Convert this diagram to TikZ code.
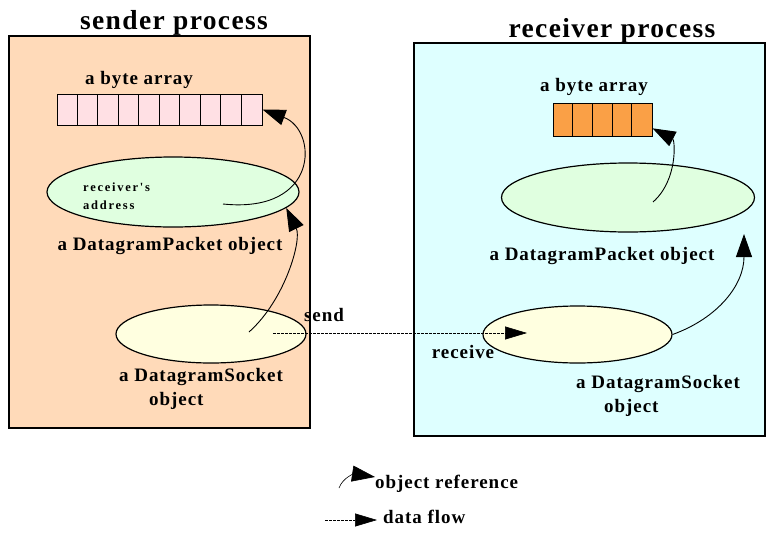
\documentclass[tikz,border=0pt]{standalone}
\usepackage{fontspec}
\setmainfont{Liberation Serif}
\newfontfamily\spacedfont[LetterSpace=5]{Liberation Serif}
\newfontfamily\widefont[LetterSpace=14]{Liberation Serif}
\usetikzlibrary{positioning,arrows.meta,shapes.geometric}
\definecolor{senderbg}{RGB}{255,218,185}
\definecolor{receiverbg}{RGB}{222,255,255}
\definecolor{packetbg}{RGB}{224,255,224}
\definecolor{socketbg}{RGB}{255,255,224}
\definecolor{pinkcell}{RGB}{255,224,228}
\definecolor{orangecell}{RGB}{250,160,70}

\begin{document}
\begin{tikzpicture}[x=1pt, y=-1pt,
  proc/.style={draw, line width=1.6pt, inner sep=0pt},
  title/.style={font=\spacedfont\fontsize{27.5}{30}\selectfont\bfseries, inner sep=0pt},
  lbl/.style={font=\spacedfont\fontsize{19}{24}\selectfont\bfseries, inner sep=0pt},
  obj/.style={ellipse, draw, line width=1.2pt, inner sep=0pt},
  arr/.style={draw, line width=1pt, inner sep=0pt},
  ref/.style={-{Triangle[length=23pt,width=16pt]}, line width=0.9pt},
  flow/.style={-{Triangle[length=22pt,width=13pt]}, dash pattern=on 2.5pt off 1.5pt, line width=0.6pt}]
	\useasboundingbox (0,0) rectangle (774,536);

	% sender side
	\node[proc, fill=senderbg, minimum width=301, minimum height=392] (sender) at (159.5,232) {};
	\node[title] (stitle) at (174,23) {sender process};
	\node[lbl] (sarraylbl) at (139,80) {a byte array};
	\node[arr, fill=pinkcell, minimum width=205, minimum height=31] (sarray) at (159.5,109.5) {};
	\foreach \i in {1,...,9}
		\draw[line width=0.8pt] (sarray.west) ++(\i*20.5,-15.5) -- ++(0,31);
	\node[obj, fill=packetbg, minimum width=252, minimum height=70] (spacket) at (173,192) {};
	\node[font=\widefont\fontsize{12.5}{18}\selectfont\bfseries, align=left, anchor=west, inner sep=0pt] (saddr) at (83,196) {receiver's\\address};
	\node[lbl] (spacketlbl) at (170,246) {a DatagramPacket object};
	\node[obj, fill=socketbg, minimum width=190, minimum height=58] (ssock) at (211,334) {};
	\node[lbl, align=left, anchor=north west] (ssocklbl) at (119,368) {a DatagramSocket\\\hspace{30pt}object};
	\node[lbl] (sendlbl) at (324,315) {send};
	\coordinate (ssock-in) at (249,332);
	\coordinate (spack-in) at (223,204);
	\coordinate (sdata) at (273,333);

	% receiver side
	\node[proc, fill=receiverbg, minimum width=351, minimum height=393] (receiver) at (589.5,239.5) {};
	\node[title] (rtitle) at (612,31) {receiver process};
	\node[lbl] (rarraylbl) at (594,87) {a byte array};
	\node[arr, fill=orangecell, minimum width=99, minimum height=33] (rarray) at (602.5,119.5) {};
	\foreach \i in {1,...,4}
		\draw[line width=0.8pt] (rarray.west) ++(\i*19.8,-16.5) -- ++(0,33);
	\node[obj, fill=packetbg, minimum width=253, minimum height=69] (rpacket) at (628,197.5) {};
	\node[lbl] (rpacketlbl) at (602,256) {a DatagramPacket object};
	\node[obj, fill=socketbg, minimum width=189, minimum height=57] (rsock) at (577.5,334.5) {};
	\node[lbl, align=left, anchor=north west] (rsocklbl) at (576,375) {a DatagramSocket\\\hspace{28pt}object};
	\node[lbl] (recvlbl) at (463,352) {receive};
	\coordinate (rpack-in) at (653,202);
	\coordinate (rpack-ref) at (744,234);
	\coordinate (rdata) at (527,333);

	% object references and data flow
	\draw[ref] (ssock-in) .. controls (285,300) and (302,240) .. (spacket.-8);
	\draw[ref] (spack-in) .. controls (320,214) and (318,130) .. (sarray.east);
	\draw[ref] (rpack-in) .. controls (678,180) and (675,140) .. (rarray.-10);
	\draw[ref] (rsock.east) .. controls (718,318) and (744,285) .. (rpack-ref);
	\draw[flow] (sdata) -- (rdata);

	% legend
	\node[lbl, anchor=west] (reflbl) at (375,484) {object reference};
	\node[lbl, anchor=west] (flowlbl) at (383,517) {data flow};
	\coordinate (lref-a) at (339,488);
	\coordinate (lref-b) at (375,477);
	\coordinate (lflow-a) at (325,520);
	\coordinate (lflow-b) at (377,520);
	\draw[ref, line width=0.6pt] (lref-a) .. controls (343,477) and (355,474) .. (lref-b);
	\draw[flow] (lflow-a) -- (lflow-b);
\end{tikzpicture}
\end{document}
